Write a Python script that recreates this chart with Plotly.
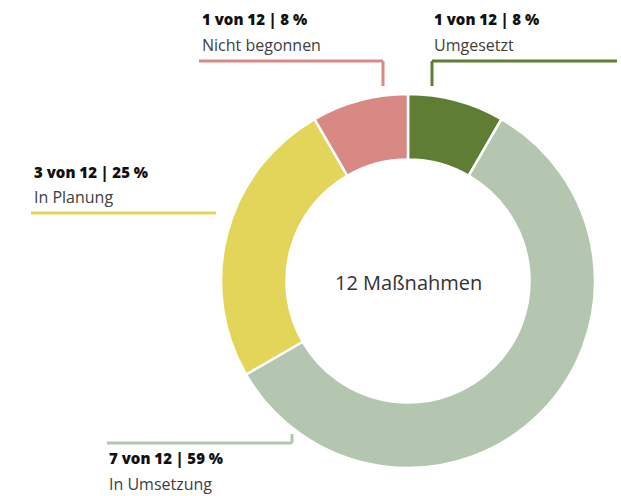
import plotly.graph_objects as go

# Status of the 12 measures, clockwise from 12 o'clock
labels = ["Umgesetzt", "In Umsetzung", "In Planung", "Nicht begonnen"]
counts = [1, 7, 3, 1]
percent_labels = ["8 %", "59 %", "25 %", "8 %"]
colors = ["#5f7e33", "#b4c6b0", "#e3d55a", "#d98984"]
total = sum(counts)
center_text = f"{total} Maßnahmen"

W, H = 621, 496


def px(x):
    return x / W


def py(y):
    return 1 - y / H


fig = go.Figure()
fig.add_trace(go.Pie(
    labels=labels,
    values=counts,
    sort=False,
    direction="clockwise",
    rotation=0,
    hole=0.65,
    marker=dict(colors=colors, line=dict(color="white", width=2.5)),
    textinfo="none",
    hoverinfo="label+value",
    domain=dict(x=[px(221), px(595)], y=[py(468), py(94)]),
))

# leader lines: (label index, list of pixel points)
leaders = [
    (3, [(199, 61), (383, 61), (383, 86)]),
    (0, [(617, 61), (432, 61), (432, 86)]),
    (2, [(31, 213), (216, 213)]),
    (1, [(107, 443), (292, 443), (292, 434)]),
]
for idx, pts in leaders:
    for (x0, y0), (x1, y1) in zip(pts[:-1], pts[1:]):
        fig.add_shape(type="line", xref="paper", yref="paper",
                      x0=px(x0), y0=py(y0), x1=px(x1), y1=py(y1),
                      line=dict(color=colors[idx], width=3))

# label blocks: (label index, left x, bold line centre y, name line centre y)
blocks = [
    (3, 200, 19, 45),
    (0, 432, 19, 45),
    (2, 32, 172, 197),
    (1, 107, 458, 484),
]
for idx, x, yb, yn in blocks:
    fig.add_annotation(
        x=px(x), y=py(yb), xref="paper", yref="paper",
        xanchor="left", yanchor="middle", showarrow=False,
        text=f"{counts[idx]} von {total} | {percent_labels[idx]}",
        font=dict(family="Open Sans", size=15, color="#111111", weight=800),
    )
    fig.add_annotation(
        x=px(x), y=py(yn), xref="paper", yref="paper",
        xanchor="left", yanchor="middle", showarrow=False,
        text=labels[idx],
        font=dict(family="Open Sans", size=16, color="#404040"),
    )

fig.add_annotation(
    x=px(408), y=py(282), xref="paper", yref="paper",
    xanchor="center", yanchor="middle", showarrow=False,
    text=center_text,
    font=dict(family="Open Sans", size=20, color="#333333"),
)

fig.update_layout(
    width=W, height=H,
    margin=dict(l=0, r=0, t=0, b=0),
    paper_bgcolor="white",
    plot_bgcolor="white",
    showlegend=False,
)

fig.write_html("out.html")
